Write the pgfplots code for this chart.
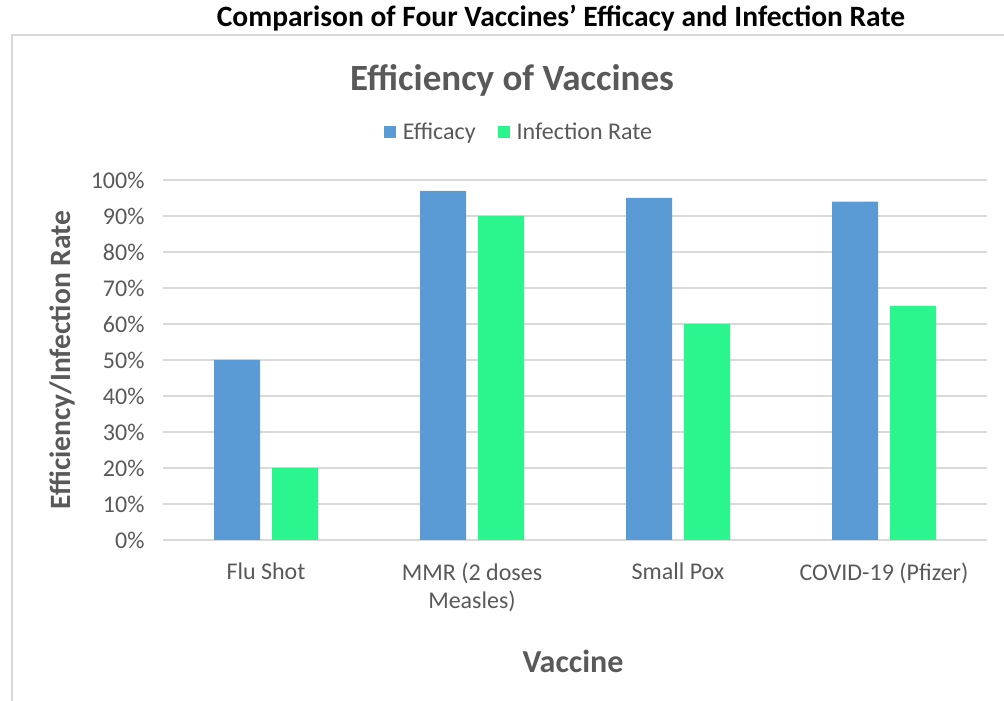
\documentclass[border=0pt]{standalone}
\usepackage{pgfplots}
\pgfplotsset{compat=1.18}
\usepackage{fontspec}
\setmainfont{Carlito}
\definecolor{bord}{HTML}{D9D9D9}
\definecolor{txt}{HTML}{595959}
\definecolor{cblue}{HTML}{5B9BD5}
\definecolor{cgreen}{HTML}{2BF68D}
\begin{document}
\begin{tikzpicture}[x=1pt,y=1pt]
\useasboundingbox (0,0) rectangle (1004,701);
\draw[bord,line width=1.2pt] (12,0) -- (12,666) -- (1004,666);
\node[font=\fontsize{29.5}{34}\selectfont\bfseries,text=black] at (561,683) {Comparison of Four Vaccines’ Efficacy and Infection Rate};
\node[font=\fontsize{37}{42}\selectfont\bfseries,text=txt] at (512,621) {Efficiency of Vaccines};
\node[font=\fontsize{32}{38}\selectfont\bfseries,text=txt] at (573,40) {Vaccine};
\node[font=\fontsize{29.5}{34}\selectfont\bfseries,text=txt,rotate=90] at (62,341) {Efficiency/Infection Rate};
\begin{axis}[
  at={(163pt,161pt)}, anchor=south west,
  scale only axis, width=824pt, height=360pt,
  ybar=12pt, bar width=46pt,
  xmin=-0.5, xmax=3.5, ymin=0, ymax=100,
  xtick={0,1,2,3},
  xticklabels={Flu Shot,{MMR (2 doses\\Measles)},Small Pox,COVID-19 (Pfizer)},
  ytick={0,10,...,100},
  yticklabel={\pgfmathprintnumber{\tick}\%},
  /pgf/number format/assume math mode=true,
  major tick length=0pt,
  axis line style={draw=none},
  ymajorgrids, grid style={bord,line width=1.3pt},
  tick label style={font=\fontsize{24}{28}\selectfont,text=txt},
  xticklabel style={align=center,anchor=north,yshift=-19pt},
  yticklabel style={anchor=east,xshift=-15pt},
  legend columns=2,
  legend style={at={(0.432,1.133)},anchor=center,draw=none,fill=none,
    font=\fontsize{24}{28}\selectfont,text=txt,
    /tikz/every odd column/.append style={column sep=5pt},
    /tikz/every even column/.append style={column sep=20pt}},
  legend image code/.code={\fill[#1] (0pt,-6pt) rectangle (12pt,6pt);},
]
\addplot[fill=cblue,draw=none] coordinates {(0,50) (1,97) (2,95) (3,94)};
\addplot[fill=cgreen,draw=none] coordinates {(0,20) (1,90) (2,60) (3,65)};
\legend{Efficacy,Infection Rate}
\end{axis}
\end{tikzpicture}
\end{document}
